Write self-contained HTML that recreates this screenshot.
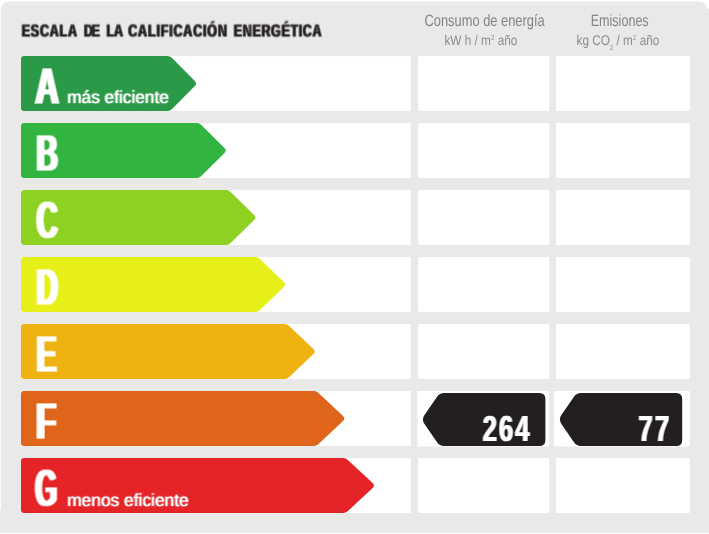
<!DOCTYPE html>
<html lang="es"><head><meta charset="utf-8"><title>Escala de la calificación energética</title>
<style>
html,body{margin:0;padding:0;background:#fff;}
body{width:709px;height:534px;overflow:hidden;}
svg{display:block;}
text{font-family:"Liberation Sans",sans-serif;text-rendering:geometricPrecision;white-space:pre;}
</style></head><body>
<svg width="709" height="534" viewBox="0 0 709 534">
<defs>
<filter id="fL" filterUnits="userSpaceOnUse" x="25" y="55" width="45" height="465" color-interpolation-filters="sRGB"><feMorphology in="SourceAlpha" operator="erode" radius="0 1" result="v2"/><feComposite in="SourceAlpha" in2="v2" operator="arithmetic" k1="0" k2="0.600" k3="0.400" k4="0" result="v"/><feMorphology in="v" operator="dilate" radius="1 0" result="h1"/><feMorphology in="v" operator="dilate" radius="2 0" result="h2"/><feComposite in="h1" in2="h2" operator="arithmetic" k1="0" k2="0.400" k3="0.600" k4="0" result="h"/><feFlood flood-color="#fff"/><feComposite in2="h" operator="in"/></filter>
<filter id="fT" filterUnits="userSpaceOnUse" x="15" y="15" width="315" height="30" color-interpolation-filters="sRGB"><feOffset in="SourceAlpha" dy="1" result="o"/><feComposite in="SourceAlpha" in2="o" operator="arithmetic" k1="0" k2="0.550" k3="0.450" k4="0" result="s0"/><feMorphology in="s0" operator="dilate" radius="0 1" result="v2"/><feComposite in="s0" in2="v2" operator="arithmetic" k1="0" k2="0.800" k3="0.200" k4="0" result="v"/><feMorphology in="v" operator="dilate" radius="1 0" result="h2"/><feComposite in="v" in2="h2" operator="arithmetic" k1="0" k2="0.380" k3="0.620" k4="0" result="h"/><feFlood flood-color="#231f20"/><feComposite in2="h" operator="in"/></filter>
<filter id="fN" filterUnits="userSpaceOnUse" x="470" y="400" width="215" height="50" color-interpolation-filters="sRGB"><feMorphology in="SourceAlpha" operator="dilate" radius="1 0" result="h2"/><feComposite in="SourceAlpha" in2="h2" operator="arithmetic" k1="0" k2="0.300" k3="0.700" k4="0" result="h"/><feFlood flood-color="#fff"/><feComposite in2="h" operator="in"/></filter>
<filter id="fS" filterUnits="userSpaceOnUse" x="60" y="80" width="140" height="435" color-interpolation-filters="sRGB"><feMorphology in="SourceAlpha" operator="dilate" radius="0 1" result="v2"/><feComposite in="SourceAlpha" in2="v2" operator="arithmetic" k1="0" k2="0.850" k3="0.150" k4="0" result="v"/><feMorphology in="v" operator="dilate" radius="1 0" result="h2"/><feComposite in="v" in2="h2" operator="arithmetic" k1="0" k2="0.550" k3="0.450" k4="0" result="h"/><feFlood flood-color="#fff"/><feComposite in2="h" operator="in"/></filter>
</defs>
<rect x="0.8" y="1.5" width="706.6" height="540" rx="8" fill="#e9e9e8"/>
<rect x="0" y="510" width="709" height="22.8" fill="#e9e9e8"/>
<rect x="705" y="9" width="4" height="523.8" fill="#e9e9e8"/>
<rect x="0" y="532.8" width="709" height="2" fill="#fff"/>
<rect x="21" y="56.1" width="389.8" height="54.9" fill="#fff"/>
<rect x="418.2" y="56.1" width="131" height="54.9" rx="1" fill="#fff"/>
<rect x="556" y="56.1" width="133.8" height="54.9" rx="1" fill="#fff"/>
<rect x="21" y="123.1" width="389.8" height="54.9" fill="#fff"/>
<rect x="418.2" y="123.1" width="131" height="54.9" rx="1" fill="#fff"/>
<rect x="556" y="123.1" width="133.8" height="54.9" rx="1" fill="#fff"/>
<rect x="21" y="190.1" width="389.8" height="54.9" fill="#fff"/>
<rect x="418.2" y="190.1" width="131" height="54.9" rx="1" fill="#fff"/>
<rect x="556" y="190.1" width="133.8" height="54.9" rx="1" fill="#fff"/>
<rect x="21" y="257.1" width="389.8" height="54.9" fill="#fff"/>
<rect x="418.2" y="257.1" width="131" height="54.9" rx="1" fill="#fff"/>
<rect x="556" y="257.1" width="133.8" height="54.9" rx="1" fill="#fff"/>
<rect x="21" y="324.1" width="389.8" height="54.9" fill="#fff"/>
<rect x="418.2" y="324.1" width="131" height="54.9" rx="1" fill="#fff"/>
<rect x="556" y="324.1" width="133.8" height="54.9" rx="1" fill="#fff"/>
<rect x="21" y="391.1" width="389.8" height="54.9" fill="#fff"/>
<rect x="418.2" y="391.1" width="131" height="54.9" rx="1" fill="#fff"/>
<rect x="556" y="391.1" width="133.8" height="54.9" rx="1" fill="#fff"/>
<rect x="21" y="458.1" width="389.8" height="54.9" fill="#fff"/>
<rect x="418.2" y="458.1" width="131" height="54.9" rx="1" fill="#fff"/>
<rect x="556" y="458.1" width="133.8" height="54.9" rx="1" fill="#fff"/>
<path d="M24 56.10L167.70 56.10Q170.10 56.10 171.79 57.80L194.86 81.00Q197.40 83.55 194.86 86.10L171.79 109.30Q170.10 111.00 167.70 111.00H24Q21 111.00 21 108.00V59.10Q21 56.10 24 56.10Z" fill="#2a9a48"/>
<path d="M24 123.10L196.98 123.10Q199.38 123.10 201.08 124.79L224.49 148.01Q227.05 150.55 224.49 153.09L201.08 176.31Q199.38 178.00 196.98 178.00H24Q21 178.00 21 175.00V126.10Q21 123.10 24 123.10Z" fill="#32b441"/>
<path d="M24 190.10L226.26 190.10Q228.66 190.10 230.38 191.78L254.13 215.03Q256.70 217.55 254.13 220.07L230.38 243.32Q228.66 245.00 226.26 245.00H24Q21 245.00 21 242.00V193.10Q21 190.10 24 190.10Z" fill="#8ed122"/>
<path d="M24 257.10L255.54 257.10Q257.94 257.10 259.67 258.77L283.76 282.05Q286.35 284.55 283.76 287.05L259.67 310.33Q257.94 312.00 255.54 312.00H24Q21 312.00 21 309.00V260.10Q21 257.10 24 257.10Z" fill="#e6ef17"/>
<path d="M24 324.10L284.82 324.10Q287.22 324.10 288.96 325.76L313.39 349.07Q316.00 351.55 313.39 354.03L288.96 377.34Q287.22 379.00 284.82 379.00H24Q21 379.00 21 376.00V327.10Q21 324.10 24 324.10Z" fill="#eeb211"/>
<path d="M24 391.10L314.10 391.10Q316.50 391.10 318.25 392.75L343.03 416.08Q345.65 418.55 343.03 421.02L318.25 444.35Q316.50 446.00 314.10 446.00H24Q21 446.00 21 443.00V394.10Q21 391.10 24 391.10Z" fill="#df651a"/>
<path d="M24 458.10L343.38 458.10Q345.78 458.10 347.54 459.73L372.66 483.10Q375.30 485.55 372.66 488.00L347.54 511.37Q345.78 513.00 343.38 513.00H24Q21 513.00 21 510.00V461.10Q21 458.10 24 458.10Z" fill="#e52428"/>
<rect x="417.4" y="391" width="131.4" height="55.5" fill="#fff"/>
<rect x="554.2" y="391" width="133.5" height="55.5" fill="#fff"/>
<path d="M444.10 393.00H539.4Q545.4 393.0 545.4 399.0V440.0Q545.4 446.0 539.4 446.0L444.10 446.00Q439.60 446.00 437.06 442.28L424.32 423.63Q421.50 419.50 424.32 415.37L437.06 396.72Q439.60 393.00 444.10 393.00Z" fill="#231f20"/>
<path d="M581.00 393.00H676.2Q682.2 393.0 682.2 399.0V440.0Q682.2 446.0 676.2 446.0L581.00 446.00Q576.50 446.00 573.96 442.28L561.22 423.63Q558.40 419.50 561.22 415.37L573.96 396.72Q576.50 393.00 581.00 393.00Z" fill="#231f20"/>
<g filter="url(#fT)"><text transform="translate(0 36.00) scale(0.72700 1)" font-size="17.1" font-weight="bold" fill="#231f20"><tspan x="29.91" letter-spacing="1.129">ESCALA</tspan> <tspan x="115.48" letter-spacing="-2.124">DE</tspan> <tspan x="146.38" letter-spacing="-0.143">LA</tspan> <tspan x="176.39" letter-spacing="1.200">CALIFICACIÓN</tspan> <tspan x="321.64" letter-spacing="0.934">ENERGÉTICA</tspan></text></g>
<text transform="translate(424.48 25.60) scale(0.78524 1)" font-size="16.4" fill="#848484">Consumo de energía</text>
<text transform="translate(444.42 45.40) scale(0.84188 1)" font-size="14" fill="#8c8c8c">kW h / m<tspan font-size="7.5" dy="-5.6">2</tspan><tspan dy="5.6"> año</tspan></text>
<text transform="translate(590.70 25.60) scale(0.76639 1)" font-size="16.4" fill="#848484">Emisiones</text>
<text transform="translate(576.56 45.40) scale(0.84115 1)" font-size="14" fill="#8c8c8c">kg CO<tspan font-size="7" dy="4.6">2</tspan><tspan dy="-4.6"> / m</tspan><tspan font-size="7.5" dy="-5.6">2</tspan><tspan dy="5.6"> año</tspan></text>
<g filter="url(#fL)"><text transform="translate(35.19 104.00) scale(0.62346 1)" font-size="52.5" font-weight="bold" fill="#fff">A</text></g>
<g filter="url(#fS)"><text transform="translate(67.17 103.00) scale(0.98589 1)" font-size="17.5" fill="#fff">más eficiente</text></g>
<g filter="url(#fL)"><text transform="translate(36.51 171.00) scale(0.56532 1)" font-size="52.5" font-weight="bold" fill="#fff">B</text></g>
<g filter="url(#fL)"><text transform="translate(36.55 238.00) scale(0.56134 1)" font-size="52.5" font-weight="bold" fill="#fff">C</text></g>
<g filter="url(#fL)"><text transform="translate(36.54 305.00) scale(0.56652 1)" font-size="52.5" font-weight="bold" fill="#fff">D</text></g>
<g filter="url(#fL)"><text transform="translate(36.53 372.00) scale(0.57036 1)" font-size="52.5" font-weight="bold" fill="#fff">E</text></g>
<g filter="url(#fL)"><text transform="translate(35.96 439.00) scale(0.62963 1)" font-size="52.5" font-weight="bold" fill="#fff">F</text></g>
<g filter="url(#fN)"><text transform="translate(482.87 441.00) scale(0.70000 1)" font-size="36.3" font-weight="bold" letter-spacing="2.938" fill="#fff">264</text></g>
<g filter="url(#fN)"><text transform="translate(638.57 441.00) scale(0.70000 1)" font-size="36.3" font-weight="bold" letter-spacing="3.419" fill="#fff">77</text></g>
<g filter="url(#fL)"><text transform="translate(35.23 506.00) scale(0.53451 1)" font-size="52.5" font-weight="bold" fill="#fff">G</text></g>
<g filter="url(#fS)"><text transform="translate(67.13 506.00) scale(0.99176 1)" font-size="17.5" fill="#fff">menos eficiente</text></g>
</svg></body></html>
